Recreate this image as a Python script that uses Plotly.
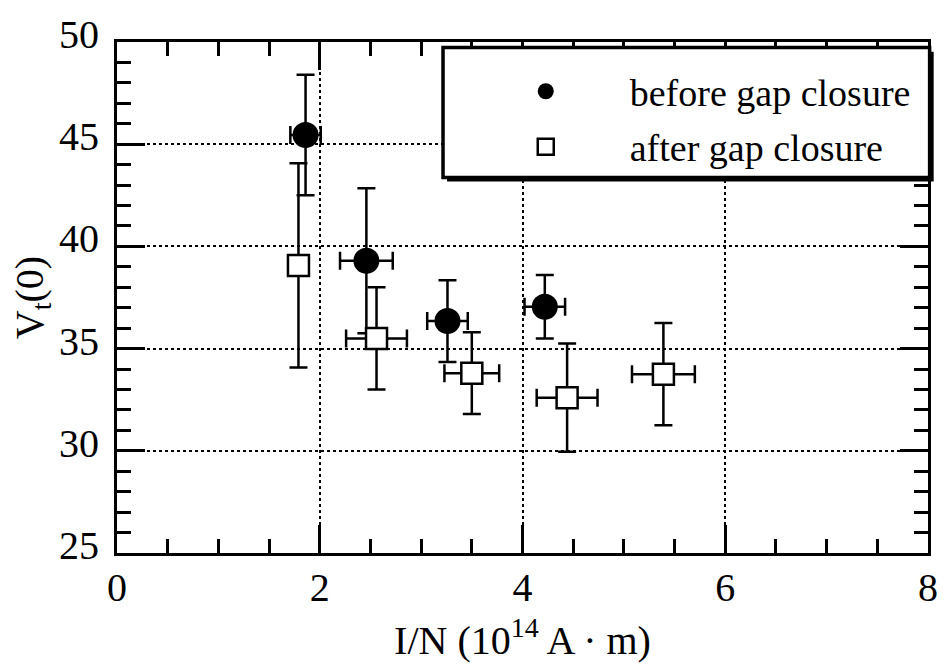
import plotly.graph_objects as go

# Data
before_x = [1.86, 2.46, 3.26, 4.22]
before_y = [45.45, 39.3, 36.35, 37.05]
before_xerr = [0.15, 0.26, 0.20, 0.20]
before_yerr = [2.95, 3.55, 2.0, 1.55]

after_x = [1.79, 2.56, 3.50, 4.44, 5.39]
after_y = [39.07, 35.5, 33.8, 32.6, 33.75]
after_xerr = [0.10, 0.30, 0.27, 0.30, 0.31]
after_yerr = [5.0, 2.5, 2.0, 2.65, 2.5]

x_ticks = [0, 2, 4, 6, 8]
y_ticks = [25, 30, 35, 40, 45, 50]

FONT = "Liberation Serif"

fig = go.Figure()
fig.add_trace(go.Scatter(
    x=before_x, y=before_y, mode="markers", name="before gap closure",
    legendgroup="a",
    marker=dict(symbol="circle", size=26, color="black", line=dict(width=0)),
    error_x=dict(type="data", array=before_xerr, color="black", thickness=2.5, width=9),
    error_y=dict(type="data", array=before_yerr, color="black", thickness=2.5, width=9),
))
fig.add_trace(go.Scatter(
    x=after_x, y=after_y, mode="markers", name="after gap closure",
    legendgroup="b",
    marker=dict(symbol="square", size=21, color="white", line=dict(width=2.5, color="black")),
    error_x=dict(type="data", array=after_xerr, color="black", thickness=2.5, width=9),
    error_y=dict(type="data", array=after_yerr, color="black", thickness=2.5, width=9),
))

axis_common = dict(
    showline=True, linecolor="black", linewidth=3, mirror="ticks",
    ticks="inside", ticklen=28, tickwidth=2.5, tickcolor="black",
    showgrid=True, gridcolor="black", gridwidth=1.5, griddash="dot",
    zeroline=False, ticklabeloverflow="allow",
    tickfont=dict(family=FONT, size=40, color="black"),
)

fig.update_xaxes(
    range=[0, 8], tickvals=x_ticks, ticktext=[str(v) for v in x_ticks],
    minor=dict(dtick=0.5, ticks="inside", ticklen=14, tickwidth=2.5, tickcolor="black", showgrid=False),
    ticklabelstandoff=-3,
    title=dict(text="I/N (10<sup>14</sup> A · m)", font=dict(family=FONT, size=40, color="black"), standoff=17),
    **axis_common,
)
fig.update_yaxes(
    range=[25, 50], tickvals=y_ticks, ticktext=[str(v) for v in y_ticks],
    minor=dict(dtick=1, ticks="inside", ticklen=14, tickwidth=2.5, tickcolor="black", showgrid=False),
    ticklabelstandoff=7, ticklabelshift=-8,
    title=dict(text="V<sub>t</sub>(0)", font=dict(family=FONT, size=40, color="black"), standoff=4),
    **axis_common,
)

# Legend box (white, thick border, drop shadow)
fig.add_shape(type="rect", xref="paper", yref="paper",
              x0=0.407, x1=1.007, y0=0.727, y1=0.981,
              fillcolor="black", line=dict(width=0), layer="above")
fig.add_shape(type="rect", xref="paper", yref="paper",
              x0=0.402, x1=1.002, y0=0.735, y1=0.989,
              fillcolor="white", line=dict(width=3.5, color="black"), layer="above")

fig.update_layout(
    width=950, height=667,
    margin=dict(l=117, r=12, t=32, b=95),
    plot_bgcolor="white", paper_bgcolor="white",
    showlegend=True,
    legend=dict(
        x=0.4251, y=0.9647, xanchor="left", yanchor="top",
        bgcolor="rgba(0,0,0,0)", borderwidth=0,
        itemwidth=158, traceorder="grouped", tracegroupgap=3,
        font=dict(family=FONT, size=38, color="black"),
    ),
)

fig.write_html("out.html",
               config={"displayModeBar": False},
               post_script="document.body.style.margin='0';document.body.style.overflow='hidden';")
